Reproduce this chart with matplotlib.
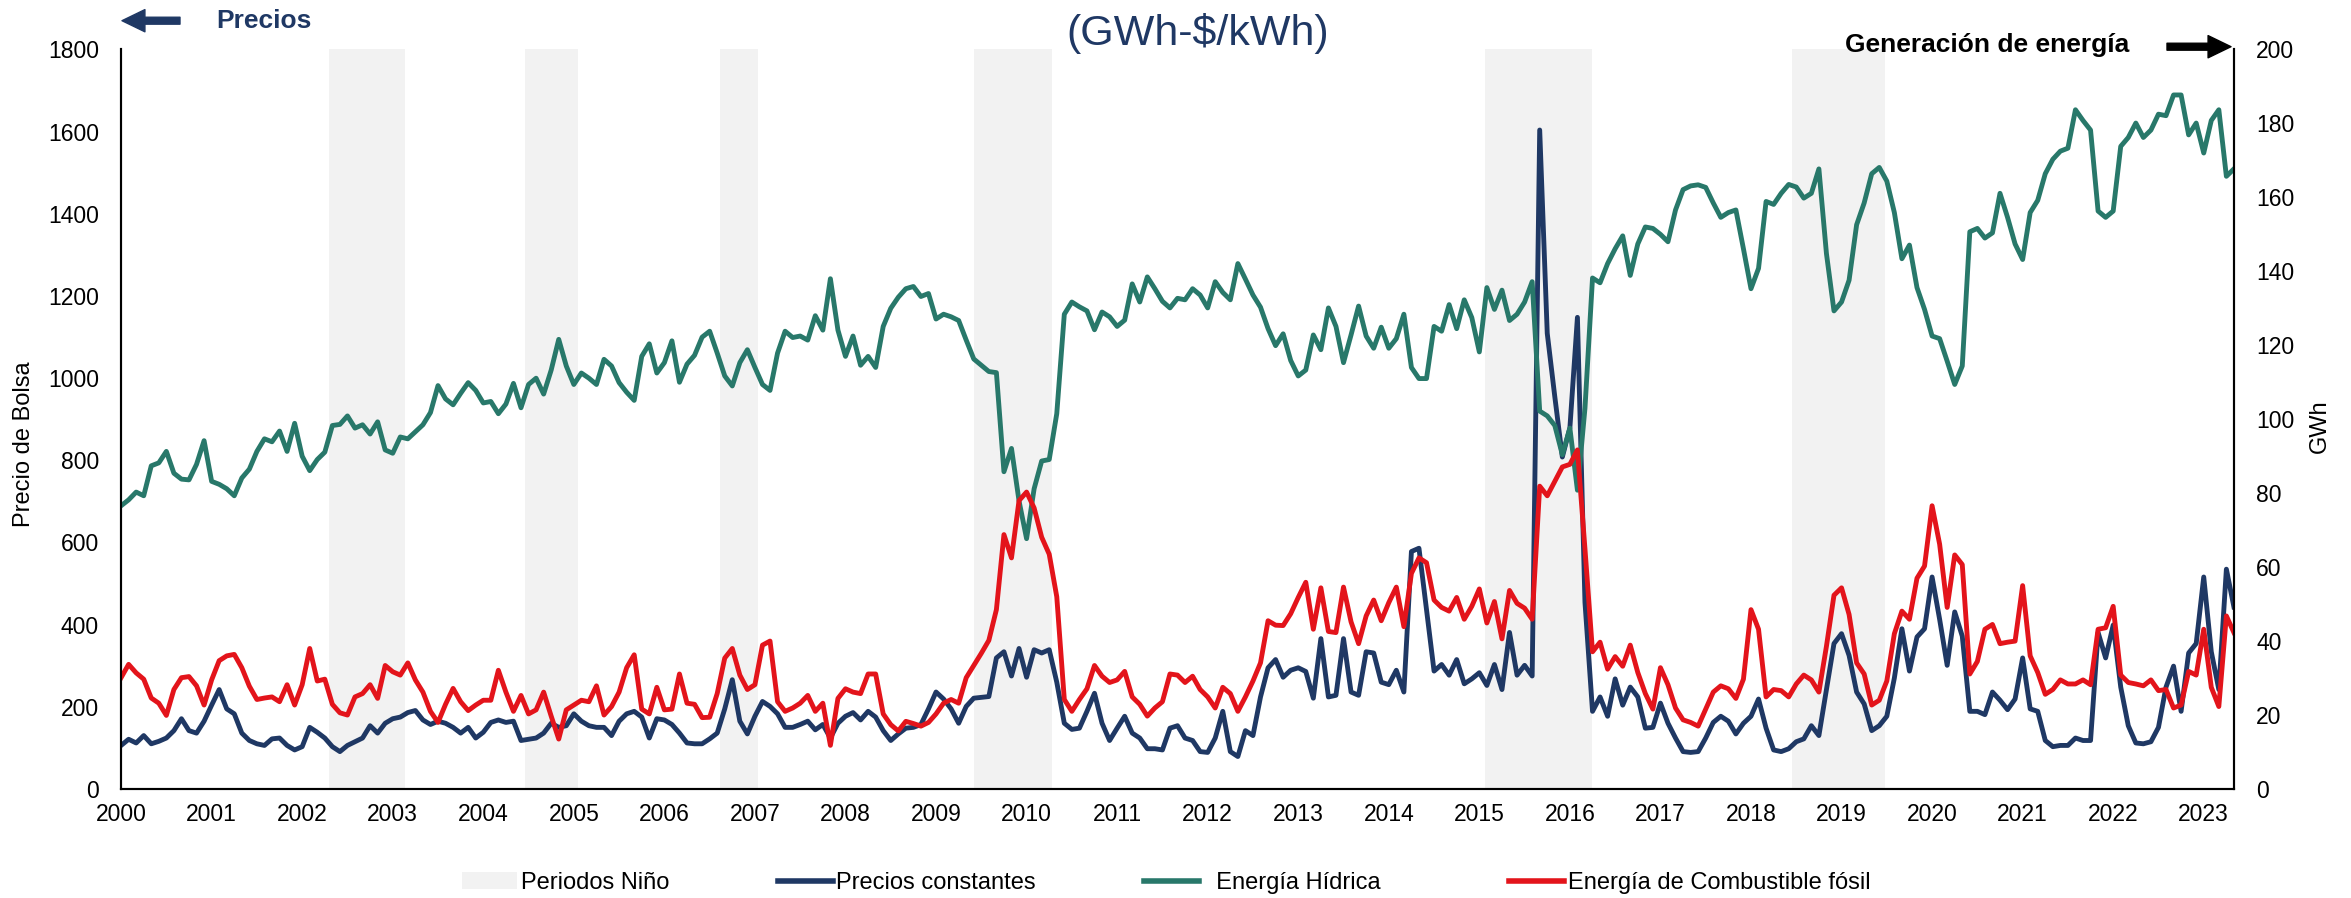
import numpy as np
import matplotlib
matplotlib.use('Agg')
import matplotlib.pyplot as plt
from matplotlib.patches import FancyArrowPatch, Patch
from matplotlib.lines import Line2D

plt.rcParams['font.family'] = ['Liberation Sans', 'DejaVu Sans']

AZUL = '#1F3864'
VERDE = '#28786A'
ROJO = '#E3141B'
GRIS = '#F2F2F2'

## series mensuales, enero 2000 - mayo 2023
inicio = 2000

# precio de bolsa, precios constantes ($/kWh) - eje izquierdo
precios = [
    106, 121, 112, 130, 110, 116, 124, 142, 171, 142, 136, 165, 204, 242, 195, 183, 136, 118, 110, 106, 122, 124, 106, 95,
    103, 150, 138, 124, 103, 91, 106, 115, 124, 154, 136, 160, 171, 175, 186, 191, 168, 157, 165, 160, 150, 136, 150, 124,
    138, 162, 168, 162, 165, 118, 121, 124, 136, 160, 150, 154, 183, 165, 154, 150, 150, 130, 165, 183, 189, 175, 124, 171,
    168, 157, 136, 112, 110, 110, 122, 136, 195, 266, 165, 134, 177, 213, 201, 183, 150, 150, 157, 165, 144, 157,
    124, 160, 177, 186, 168, 189, 175, 142, 118, 134, 148, 150, 157, 195, 236, 219, 195, 160, 201, 221, 223, 225, 319, 334,
    275, 342, 272, 339, 331, 339, 260, 160, 145, 148, 189, 233, 160, 118, 148, 177, 136, 124, 98, 98, 95, 148, 154, 124,
    118, 91, 89, 124, 189, 91, 79, 142, 130, 224, 295, 315, 272, 289, 295, 286, 221, 366, 224, 228, 366, 236, 228, 334,
    331, 260, 254, 289, 236, 578, 586, 437, 287, 303, 277, 315, 256, 268, 283, 252, 303, 242, 381, 277, 301, 275,
    1604, 1109, 955, 808, 879, 1148, 454, 189, 224, 177, 268, 204, 248, 224, 148, 150, 209, 160, 124, 91, 89, 91, 124, 162,
    177, 165, 134, 160, 177, 219, 148, 95, 91, 98, 115, 122, 154, 130, 242, 354, 378, 325, 236, 207, 142, 154, 177, 270,
    390, 287, 370, 390, 516, 413, 301, 431, 372, 189, 189, 181, 236, 216, 193, 219, 319, 195, 189, 118, 103, 106, 106, 124,
    118, 118, 381, 319, 399, 248, 154, 112, 110, 115, 150, 248, 299, 189, 331, 354, 516, 334, 242, 535, 443,
]

# generacion hidrica (GWh) - eje derecho
hidrica = [
    76.6, 78.2, 80.3, 79.3, 87.4, 88.2, 91.3, 85.4, 83.8, 83.6, 87.8, 94.2, 83.2, 82.4, 81.2, 79.3, 84.1, 86.5, 91.3, 94.7,
    93.9, 96.8, 91.3, 98.9, 90.0, 86.1, 89.1, 91.1, 98.3, 98.6, 100.9, 97.6, 98.5, 96.0, 99.3, 91.7, 90.8, 95.2, 94.7, 96.6,
    98.5, 101.8, 109.1, 105.5, 103.9, 107.0, 109.9, 107.8,
    104.4, 104.8, 101.5, 104.1, 109.7, 103.1, 109.4, 111.1, 106.8, 113.3, 121.6, 114.4, 109.4, 112.5, 111.1, 109.4, 116.2,
    114.4, 109.9, 107.3, 105.1, 117.0, 120.4, 112.5, 115.3, 121.2, 110.0, 114.9, 117.3, 122.2, 123.8, 117.9, 111.7, 109.0,
    115.3, 118.8, 114.0, 109.4, 107.8, 117.9, 123.8, 122.1, 122.5, 121.4, 128.0, 124.1,
    138.0, 124.1, 117.0, 122.5, 114.6, 117.0, 114.0, 125.1, 130.0, 133.0, 135.3, 135.9, 133.2, 134.0, 127.1, 128.4, 127.7,
    126.7, 121.4, 116.3, 114.6, 112.9, 112.6, 85.8, 92.1, 77.9, 67.7, 81.2, 88.7, 89.1, 101.5, 128.4, 131.7, 130.4, 129.3,
    124.2, 129.0, 127.7, 125.1, 126.8, 136.6, 131.7, 138.5, 135.3, 131.9, 130.1, 132.7, 132.3,
    135.3, 133.6, 130.1, 137.2, 134.3, 132.3, 142.1, 137.9, 133.6, 130.3, 124.5, 119.9, 123.1, 115.9, 111.7, 113.3, 122.8,
    118.8, 130.1, 125.1, 115.3, 122.8, 130.6, 122.5, 119.2, 124.9, 119.2, 121.8, 128.4, 114.0, 111.0, 111.0, 125.1, 123.8,
    131.0, 124.5, 132.3, 127.5, 118.2, 135.6, 129.7, 134.9, 126.7, 128.4, 131.7, 137.2,
    102.2, 100.9, 98.3, 90.4, 97.6, 80.8, 103.0, 138.2, 136.9, 142.1, 146.1, 149.6, 138.9, 147.4, 152.0, 151.6, 150.0,
    148.0, 156.6, 162.1, 163.1, 163.4, 162.7, 158.5, 154.6, 155.9, 156.6, 146.1, 135.3, 140.8, 158.9, 158.1, 161.1, 163.5,
    162.8, 159.8, 161.1, 167.7, 144.8, 129.3, 131.7, 137.6, 152.6, 158.5, 166.4, 168.1, 164.4, 155.9,
    143.4, 147.1, 135.6, 129.7, 122.5, 121.8, 115.7, 109.4, 114.4, 150.7, 151.6, 149.0, 150.4, 161.1, 154.6, 147.4, 143.2,
    155.9, 159.2, 166.4, 170.3, 172.5, 173.3, 183.7, 180.8, 178.2, 156.3, 154.6, 156.3, 173.8, 176.2, 180.1, 176.2, 178.2,
    182.5, 182.1, 187.7, 187.7, 176.9, 180.1, 172.0, 180.8, 183.7, 165.7, 167.7,
]

# generacion con combustible fosil (GWh) - eje derecho
fosil = [
    30.1, 33.7, 31.4, 29.7, 24.6, 23.2, 19.9, 26.9, 30.1, 30.4, 27.9, 22.7, 29.5, 34.7, 36.0, 36.4, 32.8, 27.8, 24.2, 24.6,
    24.9, 23.6, 28.2, 22.7, 28.2, 38.0, 29.2, 29.7, 22.9, 20.6, 20.0, 24.9, 25.8, 28.2, 24.5, 33.4, 31.7, 30.8, 34.1, 29.5,
    26.2, 21.0, 18.0, 22.9, 27.2, 23.6, 21.2, 22.7,
    24.0, 24.0, 32.1, 26.2, 21.0, 25.3, 20.3, 21.4, 26.2, 19.7, 13.5, 21.4, 22.7, 24.0, 23.6, 27.9, 20.0, 22.3, 26.2, 32.8,
    36.3, 21.6, 20.3, 27.5, 21.4, 21.6, 31.1, 23.2, 22.9, 19.3, 19.4, 25.8, 35.4, 38.0, 30.8, 26.9, 28.2, 38.9, 40.0, 23.6,
    21.0, 21.9, 23.2, 25.3, 21.0, 23.2,
    11.8, 24.5, 27.1, 26.2, 25.8, 31.1, 31.1, 20.3, 17.4, 15.7, 18.3, 17.7, 17.0, 18.0, 20.3, 23.2, 24.2, 23.2, 30.1, 33.4,
    36.7, 40.2, 48.5, 68.8, 62.5, 78.0, 80.3, 76.0, 68.1, 63.5, 52.0, 24.2, 21.0, 24.2, 27.1, 33.4, 30.5, 28.8, 29.5, 31.8,
    24.9, 22.9, 19.7, 21.9, 23.6, 31.1, 30.8, 28.8,
    30.5, 26.9, 24.9, 21.9, 27.5, 25.8, 21.0, 24.9, 29.2, 34.1, 45.5, 44.3, 44.2, 47.4, 51.8, 55.9, 43.2, 54.4, 42.6, 42.3,
    54.6, 45.2, 39.3, 46.8, 51.1, 45.5, 50.4, 54.6, 43.9, 58.3, 62.5, 61.2, 51.1, 49.1, 48.1, 51.8, 45.9, 49.4, 54.1, 44.9,
    50.7, 40.6, 53.7, 50.2, 48.9, 45.9,
    81.9, 79.3, 83.2, 87.1, 87.8, 91.7, 64.9, 37.1, 39.7, 32.4, 35.8, 33.2, 38.9, 31.5, 25.8, 21.6, 32.8, 28.2, 21.9, 18.7,
    18.0, 17.0, 21.6, 26.2, 27.9, 27.1, 24.5, 29.7, 48.5, 43.2, 24.9, 26.9, 26.6, 24.9, 28.4, 30.8, 29.5, 26.2, 38.6, 52.4,
    54.4, 47.2, 34.1, 31.1, 22.7, 24.0, 29.2, 42.0,
    48.1, 45.9, 57.0, 60.3, 76.6, 66.2, 49.1, 63.3, 60.7, 31.1, 34.5, 43.2, 44.5, 39.3, 39.7, 40.0, 55.0, 36.0, 31.5, 25.6,
    26.9, 29.5, 28.4, 28.4, 29.5, 28.2, 43.2, 43.6, 49.4, 30.8, 28.8, 28.4, 27.9, 29.5, 26.6, 26.9, 21.9, 22.7, 31.8, 30.8,
    43.2, 27.5, 22.3, 46.8, 42.3,
]

# periodos El Nino (inicio, fin) en fraccion de anio
ninos = [(2002.30, 2003.14), (2004.46, 2005.05), (2006.61, 2007.03),
         (2009.42, 2010.28), (2015.06, 2016.24), (2018.45, 2019.48)]

anios = list(range(2000, 2024))

assert len(precios) == len(hidrica) == len(fosil)
meses = inicio + np.arange(len(precios)) / 12

fig = plt.figure(figsize=(23.51, 8.98), dpi=100)
ax = fig.add_axes([0.0515, 0.1214, 0.8987, 0.8235])
ax2 = ax.twinx()

for a, b in ninos:
    ax.axvspan(a, b, color=GRIS, lw=0, zorder=0)

ax.plot(meses, precios, color=AZUL, lw=3.5, solid_joinstyle='round')
ax2.plot(meses, hidrica, color=VERDE, lw=3.5, solid_joinstyle='round')
ax2.plot(meses, fosil, color=ROJO, lw=3.5, solid_joinstyle='round')

ax.set_xlim(meses[0], meses[-1])
ax.set_ylim(0, 1800)
ax2.set_ylim(0, 200)
ax.set_yticks(range(0, 1801, 200))
ax2.set_yticks(range(0, 201, 20))
ax.set_xticks(anios)
ax.set_xticklabels([str(a) for a in anios])

for a in (ax, ax2):
    a.spines['top'].set_visible(False)
    for s in ('left', 'right', 'bottom'):
        a.spines[s].set_linewidth(1.5)
ax.tick_params(axis='both', length=0, labelsize=16.5)
ax.tick_params(axis='y', pad=16)
ax.tick_params(axis='x', pad=10)
ax2.tick_params(axis='y', length=0, labelsize=16.5, pad=16)

W, H = 2351, 898
fig.text(24 / W, 1 - 444 / H, 'Precio de Bolsa', rotation=90, ha='center', va='center', fontsize=17)
fig.text(2320 / W, 1 - 426 / H, 'GWh', rotation=90, ha='center', va='center', fontsize=17)
fig.text(1198 / W, 1 - 33 / H, r'(GWh-\$/kWh)', ha='center', va='center', fontsize=31, color=AZUL)

# flechas de ejes
estilo = 'simple,head_length=1.65,head_width=1.6,tail_width=0.5'
fig.add_artist(FancyArrowPatch((180 / W, 1 - 20.7 / H), (122 / W, 1 - 20.7 / H), transform=fig.transFigure,
                               arrowstyle=estilo, mutation_scale=10, color=AZUL, shrinkA=0, shrinkB=0))
fig.text(216 / W, 1 - 20.7 / H, 'Precios', ha='left', va='center', fontsize=19, fontweight='bold', color=AZUL)
fig.add_artist(FancyArrowPatch((2167 / W, 1 - 46.7 / H), (2231 / W, 1 - 46.7 / H), transform=fig.transFigure,
                               arrowstyle=estilo, mutation_scale=10, color='black', shrinkA=0, shrinkB=0))
fig.text(1845 / W, 1 - 45 / H, 'Generación de energía', ha='left', va='center', fontsize=19, fontweight='bold')

handles = [Patch(facecolor=GRIS, edgecolor='none', label='Periodos Niño'),
           Line2D([], [], color=AZUL, lw=4, label='Precios constantes'),
           Line2D([], [], color=VERDE, lw=4, label='  Energía Hídrica   '),
           Line2D([], [], color=ROJO, lw=4, label='Energía de Combustible fósil')]
fig.legend(handles=handles, loc='center left', bbox_to_anchor=(462 / W, 1 - 883 / H), ncol=4, frameon=False,
           fontsize=17, handlelength=2.33, handletextpad=0.15, columnspacing=4.6, borderpad=0, borderaxespad=0)

fig.savefig('out.png', dpi=100)
